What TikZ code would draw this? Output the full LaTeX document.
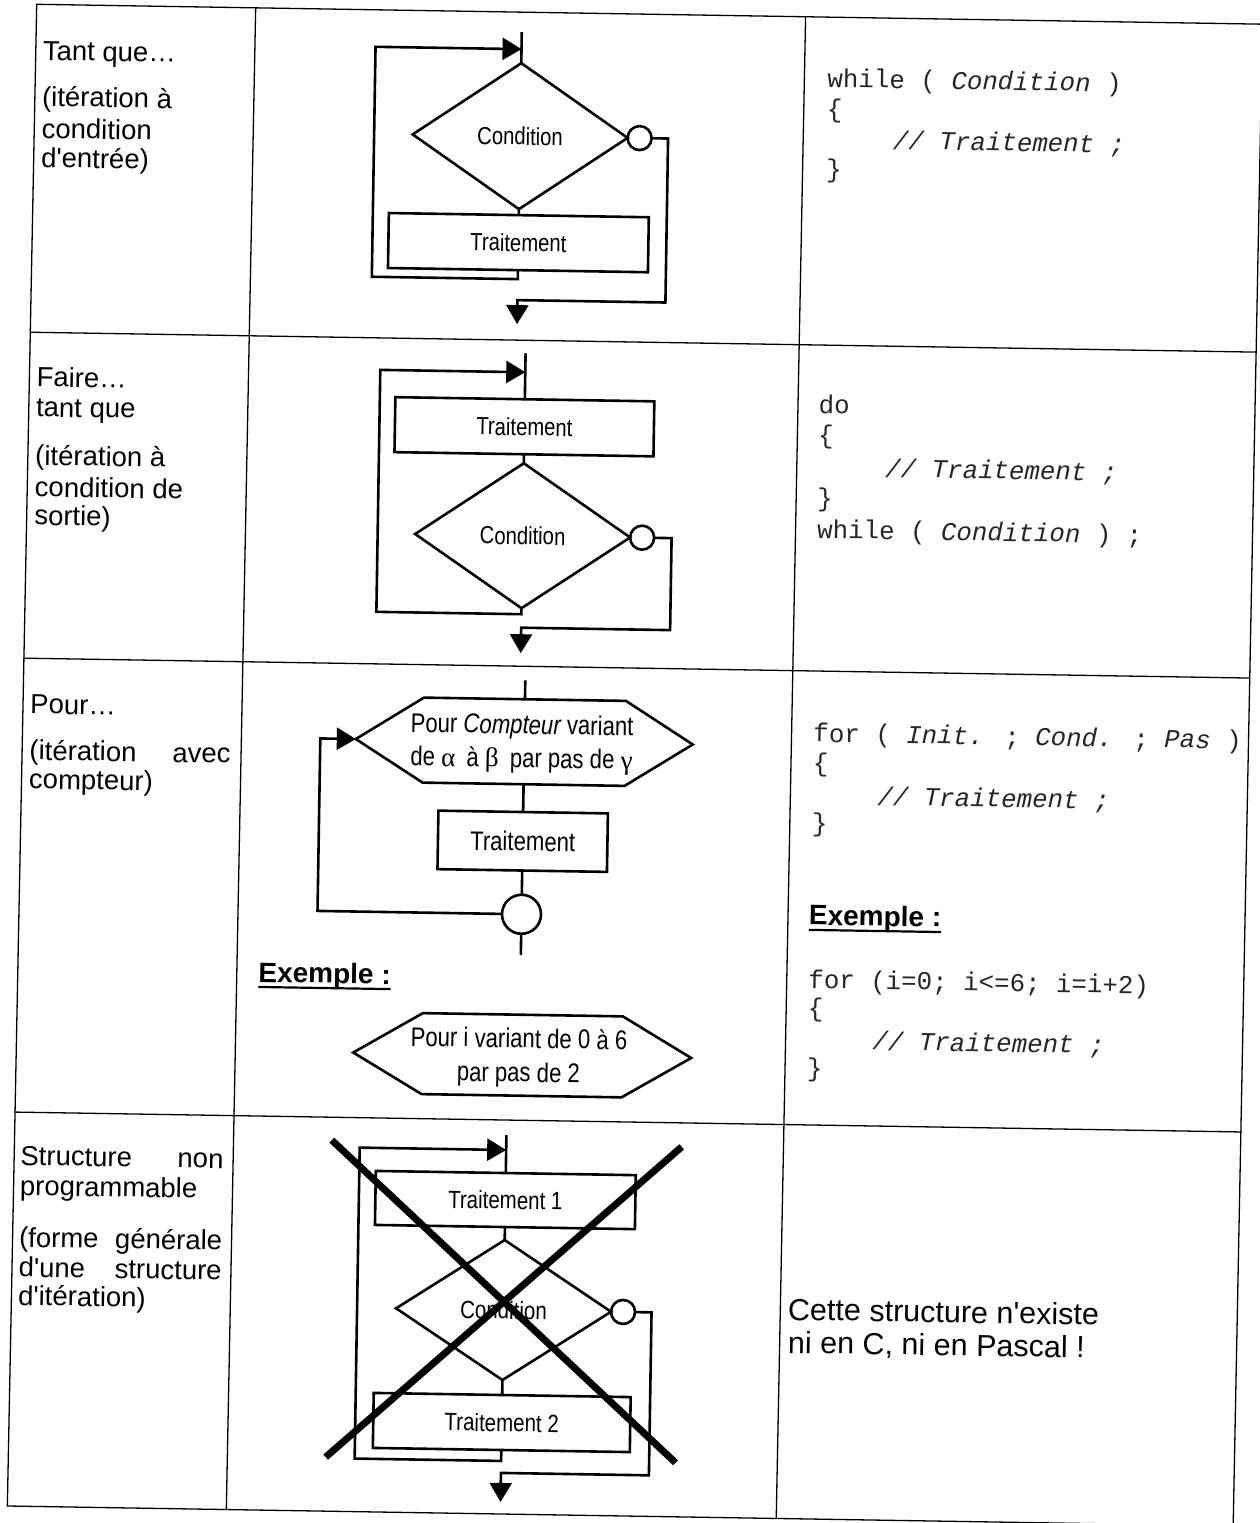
\documentclass[tikz,border=0pt]{standalone}
\usepackage{fontspec}
\setmainfont{Liberation Sans}[Ligatures=TeXOff]
\newfontfamily\narrowsf{Liberation Sans}[FakeStretch=0.82,Ligatures=TeXOff]
\newfontfamily\codefont{Liberation Mono}[Ligatures=TeXOff]
\newfontfamily\grkfont{Liberation Serif}
\usetikzlibrary{arrows.meta,shapes.geometric}

\begin{document}
\begin{tikzpicture}[x=1pt,y=-1pt,
  tablerule/.style={line width=1.3pt, line cap=round},
  flow/.style={line width=2.6pt},
  arr/.style={flow,-{Triangle[length=19pt,width=22pt]}},
  proc/.style={draw, line width=2.6pt, rectangle, inner sep=0pt, outer sep=0pt},
  cond/.style={draw, line width=2.6pt, diamond, inner sep=0pt, outer sep=0pt, minimum width=215pt},
  junc/.style={draw, line width=2.6pt, circle, inner sep=0pt, outer sep=0pt},
  hexa/.style={inner sep=0pt, outer sep=0pt, align=center},
  labA/.style={font=\narrowsf\fontsize{24.7pt}{30pt}\selectfont},
  labB/.style={font=\narrowsf\fontsize{27pt}{33.5pt}\selectfont},
  labC/.style={font=\narrowsf\fontsize{25pt}{30pt}\selectfont},
  lbl/.style={anchor=base west, inner sep=0pt, outer sep=0pt, font=\fontsize{27.5pt}{30pt}\selectfont},
  codeline/.style={anchor=base west, inner sep=0pt, outer sep=0pt, text=black!85, font=\codefont\fontsize{25.8pt}{30pt}\selectfont},
  remark/.style={anchor=base west, inner sep=0pt, outer sep=0pt, font=\fontsize{30.5pt}{33pt}\selectfont},
  exm/.style={anchor=base west, inner sep=0pt, outer sep=0pt, font=\bfseries\fontsize{28pt}{30pt}\selectfont},
  strike/.style={line width=7pt},
]
\path[use as bounding box, fill=white] (0,0) rectangle (1260,1523);

\begin{scope}[rotate around={-0.93:(630,761)}, transform shape]

% ---------- table ----------
\draw[tablerule] (24.5,14) -- (1250.5,14);
\draw[tablerule] (23.4,342) -- (1249.4,342);
\draw[tablerule] (22.3,668) -- (1248.3,668);
\draw[tablerule] (20.8,1122) -- (1246.8,1122);
\draw[tablerule] (19.5,1516) -- (1245.5,1516);
\draw[tablerule] (24.5,14) -- (19.5,1516);
\draw[tablerule] (243.5,14) -- (238.5,1516);
\draw[tablerule] (793.5,14) -- (788.5,1516);
\draw[tablerule] (1250.5,14) -- (1245.5,1516);

% ---------- row 1 : tant que ----------
\node[lbl] (t1a) at (31.5,69.8) {Tant que…};
\node[lbl] (t1b) at (31.5,115.8) {(itération à};
\node[lbl] (t1c) at (31.5,147.8) {condition};
\node[lbl] (t1d) at (31.5,176.8) {d'entrée)};

\coordinate (e1top) at (510,34);
\coordinate (e1in) at (510,51);
\node[cond, minimum height=146pt, labA] (d1) at (510,138) {Condition};
\node[junc, minimum size=24pt] (c1) at (629.5,138) {};
\node[proc, minimum width=260pt, minimum height=55pt, labA] (b1) at (510,244.5) {Traitement};
\coordinate (l1a) at (510,281);
\coordinate (l1b) at (364,281);
\coordinate (l1c) at (364,51);
\coordinate (x1a) at (658,138);
\coordinate (x1b) at (658,302);
\coordinate (x1c) at (510,302);
\coordinate (x1d) at (510,326);
\draw[flow] (e1top) -- (d1.north);
\draw[flow] (d1.south) -- (b1.north);
\draw[arr] (b1.south) -- (l1a) -- (l1b) -- (l1c) -- (e1in);
\draw[arr] (c1.east) -- (x1a) -- (x1b) -- (x1c) -- (x1d);

\node[codeline] (k1a) at (816.5,84) {while ( {\itshape Condition} )};
\node[codeline] (k1b) at (816.5,114) {\{};
\node[codeline] (k1c) at (883,145) {{\itshape // Traitement ;}};
\node[codeline] (k1d) at (816.5,174) {\}};

% ---------- row 2 : faire ... tant que ----------
\node[lbl] (t2a) at (30.5,396.3) {Faire…};
\node[lbl] (t2b) at (30.5,426.3) {tant que};
\node[lbl] (t2c) at (30.5,474.6) {(itération à};
\node[lbl] (t2d) at (30.5,506.3) {condition de};
\node[lbl] (t2e) at (30.5,534.6) {sortie)};

\coordinate (e2top) at (519,355);
\coordinate (e2in) at (519,374);
\node[proc, minimum width=259pt, minimum height=55pt, labA] (b2) at (519,428.5) {Traitement};
\node[cond, minimum height=145pt, labA] (d2) at (519,537.5) {Condition};
\node[junc, minimum size=24pt] (c2) at (638.5,537.5) {};
\coordinate (l2a) at (519,616);
\coordinate (l2b) at (374,616);
\coordinate (l2c) at (374,374);
\coordinate (x2a) at (668,537.5);
\coordinate (x2b) at (668,629.5);
\coordinate (x2c) at (519,629.5);
\coordinate (x2d) at (519,655);
\draw[flow] (e2top) -- (b2.north);
\draw[flow] (b2.south) -- (d2.north);
\draw[arr] (d2.south) -- (l2a) -- (l2b) -- (l2c) -- (e2in);
\draw[arr] (c2.east) -- (x2a) -- (x2b) -- (x2c) -- (x2d);

\node[codeline] (k2a) at (813,410) {do};
\node[codeline] (k2b) at (813,440) {\{};
\node[codeline] (k2c) at (880.5,473) {{\itshape // Traitement ;}};
\node[codeline] (k2d) at (813,503) {\}};
\node[codeline] (k2e) at (813.5,535) {while ( {\itshape Condition} ) ;};

% ---------- row 3 : pour ----------
\node[lbl] (t3a) at (29.5,723.3) {Pour…};
\node[lbl] (t3b) at (29.5,769.5) {\makebox[201pt][s]{(itération avec}};
\node[lbl] (t3c) at (29.5,798.5) {compteur)};

\coordinate (e3top) at (524,682);
\coordinate (h3n) at (524,701);
\coordinate (h3s) at (524,786);
\coordinate (h3nw) at (423,701);
\coordinate (h3ne) at (625,701);
\coordinate (h3e) at (692.5,743.5);
\coordinate (h3se) at (625,786);
\coordinate (h3sw) at (423,786);
\coordinate (h3w) at (355.5,743.5);
\draw[flow] (h3nw) -- (h3ne) -- (h3e) -- (h3se) -- (h3sw) -- (h3w) -- cycle;
\node[hexa, labB] (h3) at (521.5,745.5)
  {Pour {\itshape Compteur} variant\\de {\grkfont α}\hspace{5pt} à {\grkfont β}\hspace{5pt} par pas de {\grkfont γ}};
\node[proc, minimum width=169.5pt, minimum height=58.5pt, labB] (b3) at (524,843) {Traitement};
\node[junc, minimum size=39pt] (c3) at (524,916) {};
\coordinate (e3bot) at (524,957);
\coordinate (l3a) at (320,916);
\coordinate (l3b) at (320,743.5);
\draw[flow] (e3top) -- (h3n);
\draw[flow] (h3s) -- (b3.north);
\draw[flow] (b3.south) -- (c3.north);
\draw[flow] (c3.south) -- (e3bot);
\draw[arr] (c3.west) -- (l3a) -- (l3b) -- (h3w);

\node[exm] (ex3) at (262,988) {Exemple :};
\draw[line width=2.2pt] ([yshift=-5pt]ex3.base west) -- ([yshift=-5pt]ex3.base east);

\coordinate (g3nw) at (427,1016.5);
\coordinate (g3ne) at (627,1016.5);
\coordinate (g3e) at (696,1057);
\coordinate (g3se) at (627,1097.5);
\coordinate (g3sw) at (427,1097.5);
\coordinate (g3w) at (358,1057);
\draw[flow] (g3nw) -- (g3ne) -- (g3e) -- (g3se) -- (g3sw) -- (g3w) -- cycle;
\node[hexa, font=\narrowsf\fontsize{27pt}{34pt}\selectfont] (g3) at (523.5,1059.5)
  {Pour i variant de 0 à 6\\par pas de 2};

\node[codeline] (k3a) at (813,739) {for ( {\itshape Init.} ; {\itshape Cond.} ; {\itshape Pas} )};
\node[codeline] (k3b) at (813,769) {\{};
\node[codeline] (k3c) at (878,801) {{\itshape // Traitement ;}};
\node[codeline] (k3d) at (813,829) {\}};
\node[exm] (ex3r) at (811.5,922) {Exemple :};
\draw[line width=2.2pt] ([yshift=-5pt]ex3r.base west) -- ([yshift=-5pt]ex3r.base east);
\node[codeline] (k3e) at (812,985.3) {for (i=0; i<=6; i=i+2)};
\node[codeline] (k3f) at (812,1014) {\{};
\node[codeline] (k3g) at (877,1046) {{\itshape // Traitement ;}};
\node[codeline] (k3h) at (812,1074) {\}};

% ---------- row 4 : structure non programmable ----------
\node[lbl] (t4a) at (27,1175) {\makebox[203pt][s]{Structure non}};
\node[lbl] (t4b) at (27,1205) {programmable};
\node[lbl] (t4c) at (27,1256.7) {\makebox[203pt][s]{(forme générale}};
\node[lbl] (t4d) at (27,1286.7) {\makebox[203pt][s]{d'une structure}};
\node[lbl] (t4e) at (27,1315) {d'itération)};

\coordinate (e4top) at (512.5,1137);
\coordinate (e4in) at (512.5,1152);
\node[proc, minimum width=260pt, minimum height=54pt, labC] (b41) at (512.5,1202) {Traitement 1};
\node[cond, minimum height=140pt, labC] (d4) at (512.5,1312) {Condition};
\node[junc, minimum size=24pt] (c4) at (632,1312) {};
\node[proc, minimum width=257pt, minimum height=55pt, labC] (b42) at (512.5,1424.5) {Traitement 2};
\coordinate (l4a) at (512.5,1463);
\coordinate (l4b) at (366,1463);
\coordinate (l4c) at (366,1152);
\coordinate (x4a) at (660.5,1312);
\coordinate (x4b) at (660.5,1475);
\coordinate (x4c) at (512.5,1475);
\coordinate (x4d) at (512.5,1504);
\draw[flow] (e4top) -- (b41.north);
\draw[flow] (b41.south) -- (d4.north);
\draw[flow] (d4.south) -- (b42.north);
\draw[arr] (b42.south) -- (l4a) -- (l4b) -- (l4c) -- (e4in);
\draw[arr] (c4.east) -- (x4a) -- (x4b) -- (x4c) -- (x4d);

% the big cross over the whole chart
\coordinate (s1a) at (338,1145);
\coordinate (s1b) at (687,1462);
\coordinate (s2a) at (688,1146);
\coordinate (s2b) at (337,1462);
\draw[strike] (s1a) -- (s1b);
\draw[strike] (s2a) -- (s2b);

\node[remark] (n4a) at (797,1317.4) {Cette structure n'existe};
\node[remark] (n4b) at (797.5,1350.4) {ni en C, ni en Pascal !};

\end{scope}
\end{tikzpicture}
\end{document}
